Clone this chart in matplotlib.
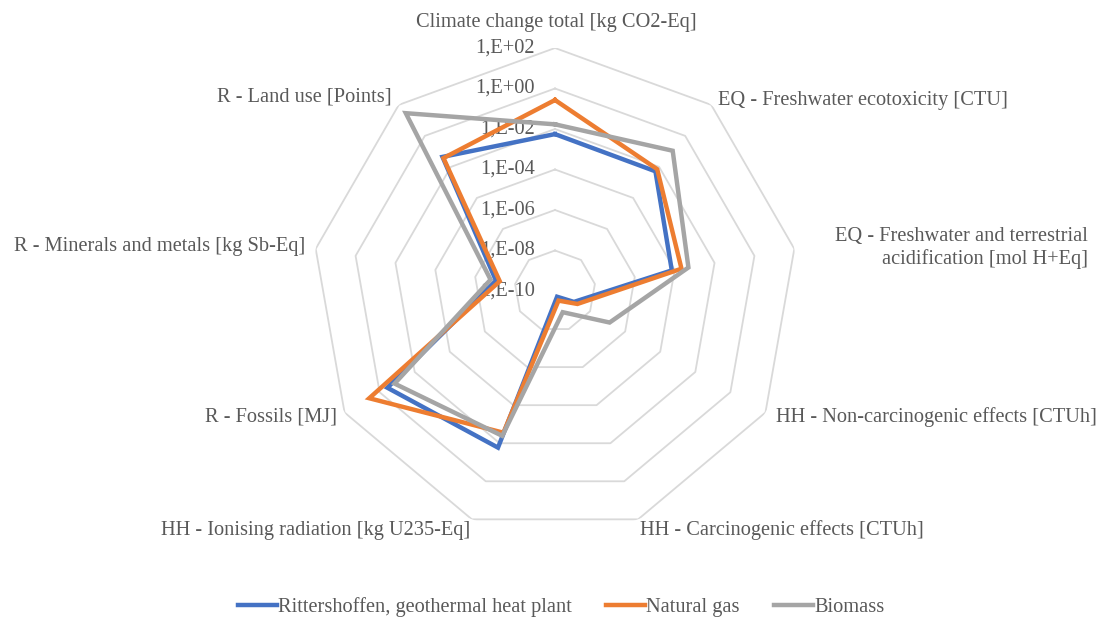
import numpy as np
import matplotlib
matplotlib.use('Agg')
import matplotlib.pyplot as plt

plt.rcParams['font.family'] = ['Liberation Serif', 'DejaVu Serif']

# categories, clockwise from the top
categories = ['Climate change total [kg CO2-Eq]',
              'EQ - Freshwater ecotoxicity [CTU]',
              'EQ - Freshwater and terrestrial\nacidification [mol H+Eq]',
              'HH - Non-carcinogenic effects [CTUh]',
              'HH - Carcinogenic effects [CTUh]',
              'HH - Ionising radiation [kg U235-Eq]',
              'R - Fossils [MJ]',
              'R - Minerals and metals [kg Sb-Eq]',
              'R - Land use [Points]']

geothermal = [5.6e-3, 5.2e-3, 7.2e-5, 1.2e-9, 2.0e-10, 1.7e-2, 0.36, 9.1e-8, 4.4e-2]
natural_gas = [0.27, 7.1e-3, 2.2e-4, 1.9e-9, 3.2e-10, 2.8e-3, 3.9, 5.9e-8, 3.7e-2]
biomass = [1.7e-2, 0.11, 4.9e-4, 1.3e-7, 1.3e-9, 4.1e-3, 0.14, 1.7e-7, 29.0]

series_names = ['Rittershoffen, geothermal heat plant', 'Natural gas', 'Biomass']
tick_values = [1e2, 1e0, 1e-2, 1e-4, 1e-6, 1e-8, 1e-10]
tick_labels = ['1,E+02', '1,E+00', '1,E-02', '1,E-04', '1,E-06', '1,E-08', '1,E-10']

colors = ['#4472C4', '#ED7D31', '#A5A5A5']
txt = '#595959'
fs = 14.7

W, H = 1102, 618
fig = plt.figure(figsize=(W / 100, H / 100), dpi=100)
cx, cy, R = 555, 291, 243
ax = fig.add_axes([(cx - R) / W, 1 - (cy + R) / H, 2 * R / W, 2 * R / H], polar=True)
ax.set_theta_zero_location('N')
ax.set_theta_direction(-1)
ax.set_rscale('log')
ax.set_rlim(1e-10, 1e2)
ax.grid(False)
ax.spines['polar'].set_visible(False)
ax.set_xticks([])
ax.set_yticks([])
ax.patch.set_alpha(0)

n = len(categories)
ang = np.arange(n) * 2 * np.pi / n
ang_c = np.append(ang, ang[0])

# polygon rings
for v in tick_values[:-1]:
    ax.plot(ang_c, [v] * (n + 1), color='#D9D9D9', lw=1.3, zorder=1)

for vals, c, name in zip([geothermal, natural_gas, biomass], colors, series_names):
    ax.plot(ang_c, vals + vals[:1], color=c, lw=3.2, label=name, zorder=3,
            solid_joinstyle='miter')

# tick labels along the top spoke
for v, lab in zip(tick_values, tick_labels):
    ax.annotate(lab, xy=(0, v), xytext=(-20, 0), textcoords='offset pixels',
                ha='right', va='center', fontsize=fs, color=txt, zorder=2)

# category labels (pixel positions)
lab_pos = [(556, 22, 'center'), (718, 100, 'left'), (1088, 248, 'right'),
           (776, 417, 'left'), (640, 530, 'left'), (470, 530, 'right'),
           (337, 417, 'right'), (305, 247, 'right'), (392, 97, 'right')]
for cat, (x, y, ha) in zip(categories, lab_pos):
    fig.text(x / W, 1 - y / H, cat, ha=ha, va='center', fontsize=fs, color=txt,
             multialignment='right' if ha == 'right' else 'left', linespacing=1.25)

fig.legend(loc='center', bbox_to_anchor=(561 / W, 1 - 607 / H), ncol=3, frameon=False,
           fontsize=fs, handlelength=1.9, handletextpad=0.05, columnspacing=1.7,
           labelcolor=txt)

fig.savefig('out.png', dpi=100)
